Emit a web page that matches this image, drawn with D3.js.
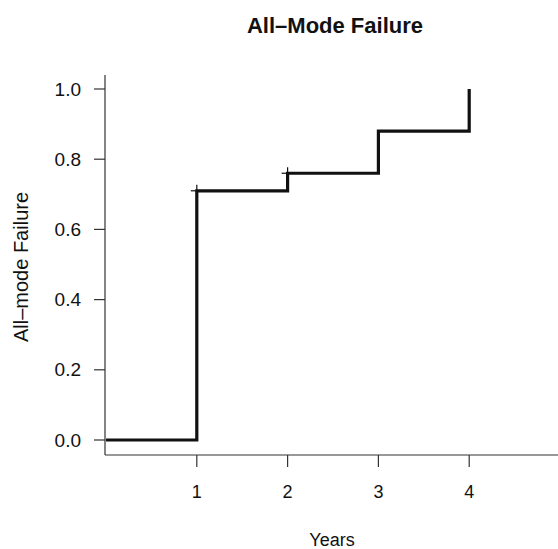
<!DOCTYPE html>
<html>
<head>
<meta charset="utf-8">
<script src="https://cdn.jsdelivr.net/npm/d3@7"></script>
<style>
  body { margin: 0; background: #fff; }
  text { font-family: "Liberation Sans", Arial, sans-serif; fill: #111; }
</style>
</head>
<body>
<div id="chart"></div>
<script>
// step times and all-mode failure values
const times = [0, 1, 2, 3, 4];
const failure = [0.0, 0.71, 0.76, 0.88, 1.0];
const censorTimes = [1, 2];
const censorValues = [0.71, 0.76];
const xTicks = [1, 2, 3, 4];
const yTicks = [0, 0.2, 0.4, 0.6, 0.8, 1.0];

const width = 558, height = 549;

const svg = d3.select("#chart").append("svg")
    .attr("width", width)
    .attr("height", height);

const x = d3.scaleLinear().domain([0, 5]).range([106, 560]);
const y = d3.scaleLinear().domain([0, 1]).range([440, 89]);

// axes lines (L shape)
svg.append("line")
    .attr("x1", 105).attr("x2", 105)
    .attr("y1", 75).attr("y2", 455)
    .attr("stroke", "#333").attr("stroke-width", 1.2);
svg.append("line")
    .attr("x1", 105).attr("x2", width)
    .attr("y1", 455).attr("y2", 455)
    .attr("stroke", "#333").attr("stroke-width", 1.2);

// y ticks
const yg = svg.append("g");
yg.selectAll("line").data(yTicks).join("line")
    .attr("x1", 94).attr("x2", 105)
    .attr("y1", d => y(d)).attr("y2", d => y(d))
    .attr("stroke", "#333").attr("stroke-width", 1.2);
yg.selectAll("text").data(yTicks).join("text")
    .attr("x", 81)
    .attr("y", d => y(d))
    .attr("dy", "0.35em")
    .attr("text-anchor", "end")
    .style("font-size", "19px")
    .text(d => d3.format(".1f")(d));

// x ticks
const xg = svg.append("g");
xg.selectAll("line").data(xTicks).join("line")
    .attr("x1", d => x(d)).attr("x2", d => x(d))
    .attr("y1", 455).attr("y2", 467)
    .attr("stroke", "#333").attr("stroke-width", 1.2);
xg.selectAll("text").data(xTicks).join("text")
    .attr("x", d => x(d))
    .attr("y", 498)
    .attr("text-anchor", "middle")
    .style("font-size", "18px")
    .text(d => d);

// step line
const pts = [];
times.forEach((t, i) => {
    if (i > 0) pts.push([t, failure[i - 1]]);
    pts.push([t, failure[i]]);
});
const line = d3.line().x(d => x(d[0])).y(d => y(d[1]));
svg.append("path")
    .datum(pts)
    .attr("d", line)
    .attr("fill", "none")
    .attr("stroke", "#111")
    .attr("stroke-width", 3.2)
    .attr("stroke-linejoin", "miter");

// censor marks
const cg = svg.append("g");
censorTimes.forEach((t, i) => {
    const cx = x(t), cy = y(censorValues[i]);
    cg.append("line").attr("x1", cx - 6).attr("x2", cx + 6)
        .attr("y1", cy).attr("y2", cy)
        .attr("stroke", "#111").attr("stroke-width", 1.2);
    cg.append("line").attr("x1", cx).attr("x2", cx)
        .attr("y1", cy - 6).attr("y2", cy + 6)
        .attr("stroke", "#111").attr("stroke-width", 1.2);
});

// labels
svg.append("text")
    .attr("x", 335).attr("y", 33)
    .attr("text-anchor", "middle")
    .style("font-size", "22px")
    .style("font-weight", "bold")
    .text("All\u2013Mode Failure");

svg.append("text")
    .attr("x", 332).attr("y", 546)
    .attr("text-anchor", "middle")
    .style("font-size", "18px")
    .text("Years");

svg.append("text")
    .attr("transform", "translate(28,267) rotate(-90)")
    .attr("text-anchor", "middle")
    .style("font-size", "20px")
    .text("All\u2013mode Failure");
</script>
</body>
</html>
